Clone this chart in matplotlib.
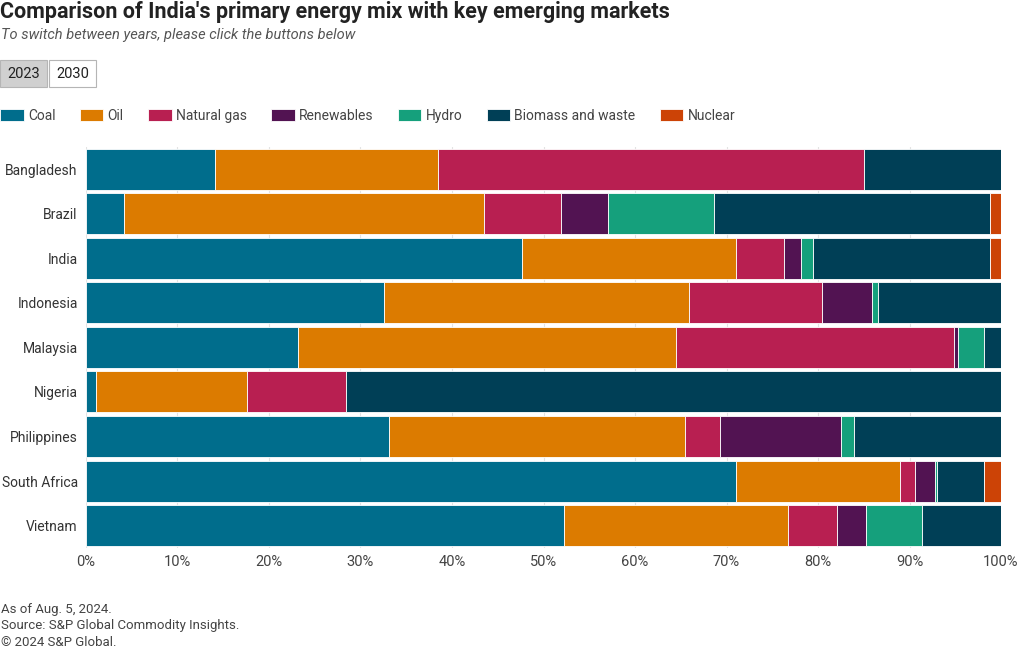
import numpy as np
import matplotlib.pyplot as plt
from matplotlib.patches import Rectangle

plt.rcParams["font.family"] = ["Roboto", "DejaVu Sans"]

countries = ["Bangladesh", "Brazil", "India", "Indonesia", "Malaysia",
             "Nigeria", "Philippines", "South Africa", "Vietnam"]
fuels = ["Coal", "Oil", "Natural gas", "Renewables", "Hydro",
         "Biomass and waste", "Nuclear"]
colors = ["#006d8c", "#dc7b00", "#b81f51", "#521352", "#15a07c",
          "#003f56", "#cc4306"]

# shares in % (2023)
coal = [14.1, 4.2, 47.7, 32.6, 23.2, 1.1, 33.1, 71.0, 52.2]
oil = [24.4, 39.3, 23.3, 33.3, 41.3, 16.5, 32.4, 18.0, 24.5]
natural_gas = [46.5, 8.4, 5.3, 14.5, 30.4, 10.8, 3.8, 1.6, 5.4]
renewables = [0.0, 5.1, 1.8, 5.5, 0.4, 0.0, 13.2, 2.2, 3.1]
hydro = [0.0, 11.6, 1.4, 0.7, 2.8, 0.0, 1.4, 0.2, 6.2]
biomass = [15.0, 30.2, 19.3, 13.4, 1.9, 71.6, 16.1, 5.1, 8.6]
nuclear = [0.0, 1.2, 1.2, 0.0, 0.0, 0.0, 0.0, 1.9, 0.0]

series = [coal, oil, natural_gas, renewables, hydro, biomass, nuclear]

fig = plt.figure(figsize=(10.2, 6.5), dpi=100)
ax = fig.add_axes([0.0843, 0.157, 0.8971, 0.617])

y = np.arange(len(countries))
left = np.zeros(len(countries))
for name, vals, c in zip(fuels, series, colors):
    vals = np.array(vals)
    ax.barh(y, vals, left=left, height=0.92, color=c, edgecolor="white",
            linewidth=0.6, label=name, zorder=3)
    left += vals

ax.set_xlim(0, 100)
ax.set_ylim(len(countries) - 0.5, -0.5)
ax.set_yticks(y)
ax.set_yticklabels(countries, fontsize=10, color="#333333")
ax.set_xticks(np.arange(0, 101, 10))
ax.set_xticklabels([f"{v}%" for v in range(0, 101, 10)], fontsize=10.5, color="#444444")
ax.tick_params(length=0, pad=5)
ax.tick_params(axis="y", pad=6)
ax.grid(axis="x", color="#e3e3e3", linewidth=0.8, zorder=0)
for s in ax.spines.values():
    s.set_visible(False)

# title block
fig.text(0.0, 1 - 12 / 650, "Comparison of India's primary energy mix with key emerging markets",
         fontsize=15.5, fontweight="bold", color="#222222", va="center")
fig.text(0.001, 1 - 35 / 650, "To switch between years, please click the buttons below",
         fontsize=10.5, style="italic", color="#555555", va="center")

# year buttons
for x0, w, lab, fc in [(0, 47, "2023", "#d0d0d0"), (49, 47, "2030", "white")]:
    fig.patches.append(Rectangle((x0 / 1020, 1 - 87 / 650), w / 1020, 27 / 650,
                                 transform=fig.transFigure, facecolor=fc,
                                 edgecolor="#b5b5b5", linewidth=0.8))
    fig.text((x0 + w / 2) / 1020, 1 - 73.5 / 650, lab, fontsize=10.5,
             ha="center", va="center", color="#222222")

# legend
handles, labels = ax.get_legend_handles_labels()
fig.legend(handles, labels, loc="center left", bbox_to_anchor=(-0.012, 1 - 116 / 650),
           ncol=7, frameon=False, fontsize=10, handlelength=1.7, handleheight=0.9,
           handletextpad=0.3, columnspacing=1.75, labelcolor="#444444")

# footer
fig.text(0.001, 1 - 610 / 650, "As of Aug. 5, 2024.", fontsize=9.5, color="#444444", va="center")
fig.text(0.001, 1 - 626 / 650, "Source: S&P Global Commodity Insights.", fontsize=9.5,
         color="#444444", va="center")
fig.text(0.001, 1 - 642 / 650, "\u00a9 2024 S&P Global.", fontsize=9.5, color="#444444", va="center")

fig.savefig("out.png", dpi=100)
